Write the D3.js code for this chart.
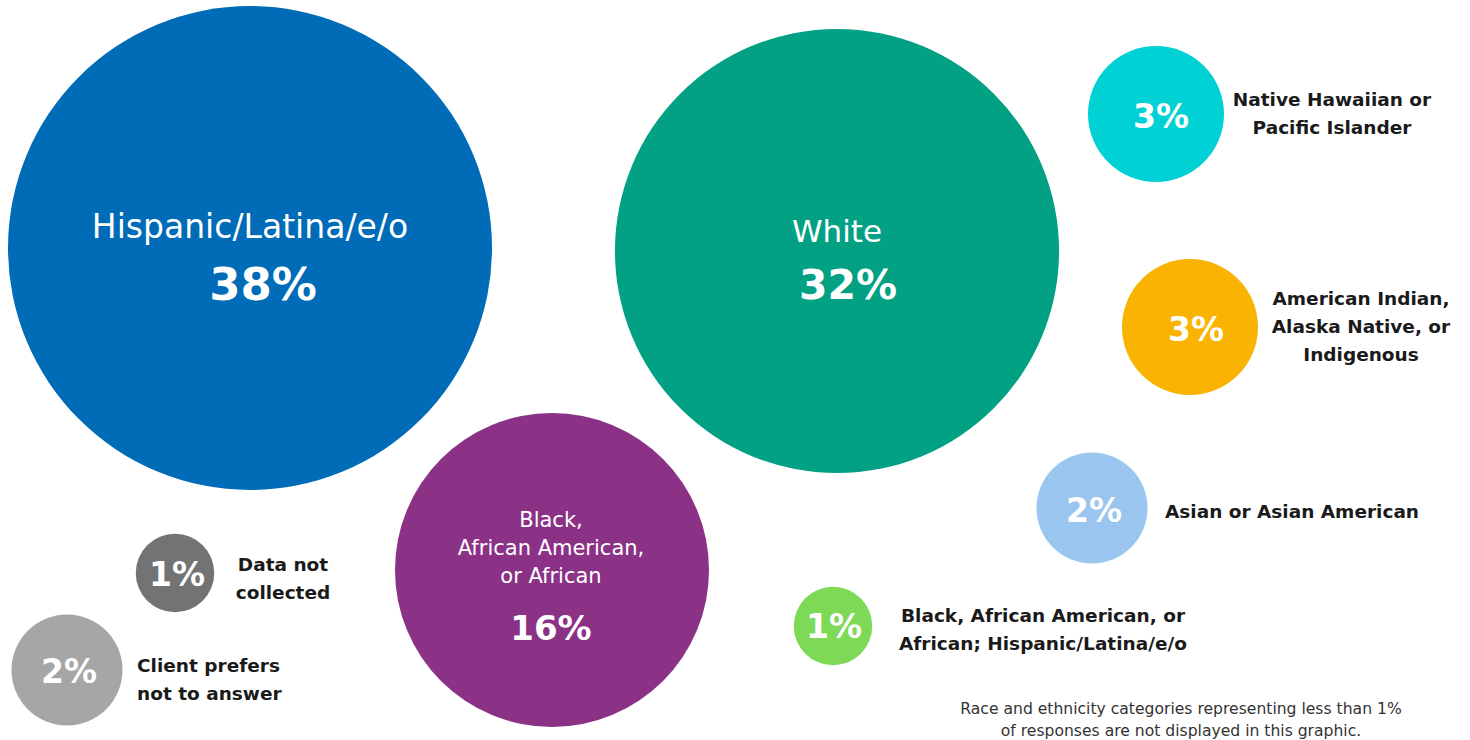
<!DOCTYPE html>
<html>
<head>
<meta charset="utf-8">
<script src="https://cdn.jsdelivr.net/npm/d3@7/dist/d3.min.js"></script>
<style>
  html, body { margin: 0; padding: 0; background: #ffffff; }
  svg { display: block; }
  text { font-family: "DejaVu Sans", "Noto Sans", sans-serif; }
</style>
</head>
<body>
<svg id="chart" width="1470" height="740"></svg>
<script>
// ---- Data ----
const categories = [
  "Hispanic/Latina/e/o",
  "White",
  "Black, African American, or African",
  "Native Hawaiian or Pacific Islander",
  "American Indian, Alaska Native, or Indigenous",
  "Asian or Asian American",
  "Black, African American, or African; Hispanic/Latina/e/o",
  "Data not collected",
  "Client prefers not to answer"
];
const values = [38, 32, 16, 3, 3, 2, 1, 1, 2];
const labelLines = [
  ["Hispanic/Latina/e/o"],
  ["White"],
  ["Black,", "African American,", "or African"],
  ["Native Hawaiian or", "Pacific Islander"],
  ["American Indian,", "Alaska Native, or", "Indigenous"],
  ["Asian or Asian American"],
  ["Black, African American, or", "African; Hispanic/Latina/e/o"],
  ["Data not", "collected"],
  ["Client prefers", "not to answer"]
];
const colors = ["#006bb6", "#02a184", "#8b3287", "#00d1d4", "#f9b300", "#99c5ee", "#7ed957", "#737373", "#a6a6a6"];
const footnote = [
  "Race and ethnicity categories representing less than 1%",
  "of responses are not displayed in this graphic."
];

// ---- Layout (positions of bubbles and their labels) ----
const layout = [
  {cx: 250, cy: 248, inside: true,  lx: 250, ly: 238, lsize: 33, lh: 0,  px: 263, py: 300, psize: 45},
  {cx: 837, cy: 251, inside: true,  lx: 837, ly: 242, lsize: 31, lh: 0,  px: 848, py: 299, psize: 41},
  {cx: 552, cy: 570, inside: true,  lx: 551, ly: 527, lsize: 21, lh: 28, px: 551, py: 640, psize: 34},
  {cx: 1156, cy: 114, inside: false, lx: 1332, ly: 106, anchor: "middle", lh: 28, px: 1161, py: 128},
  {cx: 1190, cy: 327, inside: false, lx: 1361, ly: 305, anchor: "middle", lh: 28, px: 1196, py: 341},
  {cx: 1092, cy: 508, inside: false, lx: 1165, ly: 518, anchor: "start",  lh: 28, px: 1094, py: 522},
  {cx: 833, cy: 626, inside: false, lx: 1043, ly: 622, anchor: "middle", lh: 28, px: 834, py: 638},
  {cx: 175, cy: 573, inside: false, lx: 283, ly: 571, anchor: "middle", lh: 28, px: 177, py: 586},
  {cx: 67,  cy: 670, inside: false, lx: 137, ly: 672, anchor: "start",  lh: 28, px: 69,  py: 683}
];

const data = categories.map((c, i) => ({
  category: c, value: values[i], lines: labelLines[i], color: colors[i], ...layout[i]
}));

const svg = d3.select("#chart");
const r = d3.scaleSqrt().domain([0, 38]).range([0, 242]);

const g = svg.selectAll("g.bubble").data(data).join("g").attr("class", "bubble");

g.append("circle")
  .attr("cx", d => d.cx)
  .attr("cy", d => d.cy)
  .attr("r", d => r(d.value))
  .attr("fill", d => d.color);

// percentage text
g.append("text")
  .attr("x", d => d.px)
  .attr("y", d => d.py)
  .attr("text-anchor", "middle")
  .attr("fill", "#ffffff")
  .attr("font-weight", "bold")
  .attr("font-size", d => d.inside ? d.psize : 33)
  .text(d => d.value + "%");

// category labels
g.each(function(d) {
  const t = d3.select(this).append("text")
    .attr("text-anchor", d.inside ? "middle" : d.anchor)
    .attr("fill", d.inside ? "#ffffff" : "#1a1a1a")
    .attr("font-weight", d.inside ? "normal" : "bold")
    .attr("font-size", d.inside ? d.lsize : 18.5);
  d.lines.forEach((line, k) => {
    t.append("tspan")
      .attr("x", d.lx)
      .attr("y", d.ly + k * d.lh)
      .text(line);
  });
});

// footnote
svg.append("text")
  .attr("text-anchor", "middle")
  .attr("fill", "#333333")
  .attr("font-size", 15.6)
  .selectAll("tspan").data(footnote).join("tspan")
  .attr("x", 1181)
  .attr("y", (d, i) => 714 + i * 22)
  .text(d => d);
</script>
</body>
</html>
